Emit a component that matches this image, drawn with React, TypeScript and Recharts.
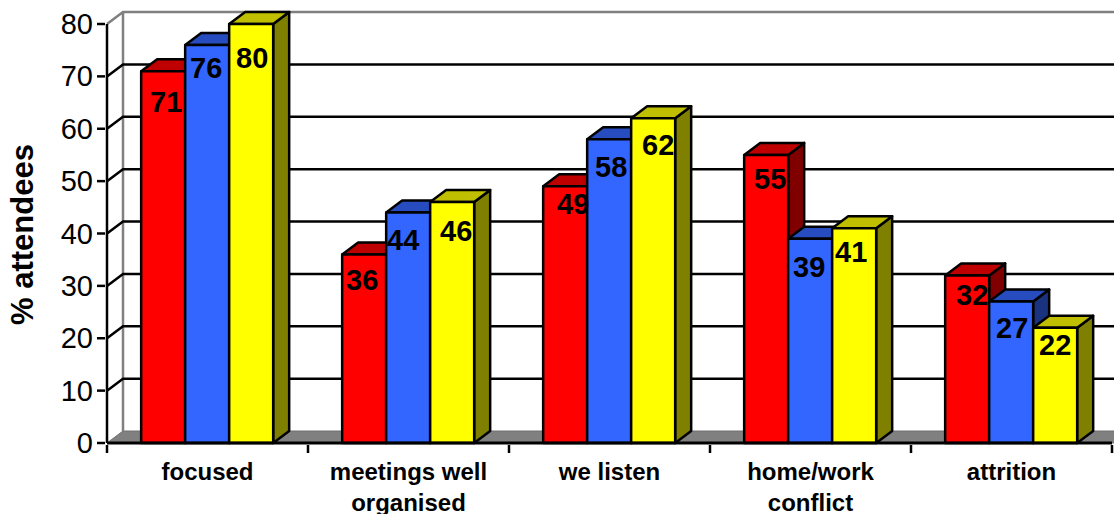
import React from "react";
import { BarChart, Bar, XAxis, YAxis, CartesianGrid, ReferenceArea, LabelList } from "recharts";

const categories = ["focused", "meetings well organised", "we listen", "home/work conflict", "attrition"];
const redValues = [71, 36, 49, 55, 32];
const blueValues = [76, 44, 58, 39, 27];
const yellowValues = [80, 46, 62, 41, 22];
const yTicks = [0, 10, 20, 30, 40, 50, 60, 70, 80];

const rows = categories.map((name, i) => ({
  name,
  red: redValues[i],
  blue: blueValues[i],
  yellow: yellowValues[i],
}));

const FONT = "'Liberation Sans', Arial, sans-serif";
const DEPTH_X = 16;
const DEPTH_Y = 12;
const LINE = 2.5;

const redFaces = { front: "#FF0000", top: "#BF0000", side: "#800000" };
const blueFaces = { front: "#3366FF", top: "#264CBF", side: "#1A3380" };
const yellowFaces = { front: "#FFFF00", top: "#BFBF00", side: "#808000" };

// Hand placement of the value labels, as [dx, dy] from the bar's top centre.
const redShift = [[3, 31], [-2, 26], [8, 18], [4, 24], [5, 20]];
const blueShift = [[-1, 23], [-5, 27], [2, 28], [-1, 28], [1, 26]];
const yellowShift = [[1, 34], [4, 29], [5, 27], [-3, 24], [0, 17]];

type Faces = typeof redFaces;

const box = (faces: Faces) => (props: any) => {
  const { x, y, width, height } = props;
  const r = x + width;
  const b = y + height;
  const common = { stroke: "#000", strokeWidth: LINE, strokeLinejoin: "round" as const };
  return (
    <g>
      <path d={`M${r},${y} l${DEPTH_X},${-DEPTH_Y} V${b - DEPTH_Y} L${r},${b} Z`} fill={faces.side} {...common} />
      <path d={`M${x},${y} l${DEPTH_X},${-DEPTH_Y} H${r + DEPTH_X} L${r},${y} Z`} fill={faces.top} {...common} />
      <rect x={x} y={y} width={width} height={height} fill={faces.front} {...common} />
    </g>
  );
};

const valueLabel = (shift: number[][]) => (props: any) => {
  const { x, y, width, value, index } = props;
  const [dx, dy] = shift[index];
  return (
    <text
      x={x + width / 2 + dx}
      y={y + dy}
      textAnchor="middle"
      dominantBaseline="central"
      fontFamily={FONT}
      fontWeight="bold"
      fontSize={29}
      fill="#000"
    >
      {value}
    </text>
  );
};

// Back wall outline and grey floor of the 3D box.
const Walls = (props: any) => {
  const { x, y, width, height } = props;
  const b = y + height;
  const r = x + width + 10;
  return (
    <g>
      <path
        d={`M${x},${b} l${DEPTH_X},${-DEPTH_Y} H${r} V${b} Z`}
        fill="#808080"
        stroke="#6f6f6f"
        strokeWidth={1}
      />
      <path
        d={`M${x},${y} l${DEPTH_X},${-DEPTH_Y} H${r} M${x + DEPTH_X},${y - DEPTH_Y} V${b - DEPTH_Y}`}
        fill="none"
        stroke="#808080"
        strokeWidth={LINE}
      />
    </g>
  );
};

const gridLine = (props: any) => {
  const { x1, x2, y1, key, index } = props;
  if (index === 0 || index === yTicks.length - 1) return <g key={key} />;
  return (
    <path
      key={key}
      d={`M${x1},${y1} l${DEPTH_X},${-DEPTH_Y} H${x2 + 10}`}
      fill="none"
      stroke="#000"
      strokeWidth={LINE}
    />
  );
};

const YTick = (props: any) => {
  const { x, y, payload } = props;
  return (
    <g>
      <line x1={x - 8} x2={x} y1={y} y2={y} stroke="#000" strokeWidth={LINE} />
      <text
        x={x - 12}
        y={y}
        textAnchor="end"
        dominantBaseline="central"
        fontFamily={FONT}
        fontSize={29}
        fill="#000"
      >
        {payload.value}
      </text>
    </g>
  );
};

const wrapped = [["focused"], ["meetings well", "organised"], ["we listen"], ["home/work", "conflict"], ["attrition"]];

const XTick = (props: any) => {
  const { x, y, index } = props;
  const half = 100.5;
  return (
    <g>
      <line x1={x - half} x2={x - half} y1={y} y2={y + 8} stroke="#000" strokeWidth={LINE} />
      {index === categories.length - 1 && (
        <line x1={x + half} x2={x + half} y1={y} y2={y + 8} stroke="#000" strokeWidth={LINE} />
      )}
      {wrapped[index].map((line, i) => (
        <text
          key={line}
          x={x}
          y={480 + i * 30.5}
          textAnchor="middle"
          fontFamily={FONT}
          fontWeight="bold"
          fontSize={24}
          fill="#000"
        >
          {line}
        </text>
      ))}
    </g>
  );
};

const AxisTitle = () => (
  <text
    transform="translate(33,234.5) rotate(-90)"
    textAnchor="middle"
    fontFamily={FONT}
    fontWeight="bold"
    fontSize={31}
    fill="#000"
  >
    % attendees
  </text>
);

export default function App() {
  return (
    <div style={{ position: "absolute", left: 0, top: 0, width: 1114, height: 514, overflow: "hidden", background: "#fff" }}>
      <BarChart
        width={1114}
        height={514}
        data={rows}
        margin={{ top: 24, right: 2, bottom: 0, left: 0 }}
        barCategoryGap="17%"
        barGap={0}
        style={{ overflow: "hidden" }}
      >
        <ReferenceArea y1={0} y2={80} shape={Walls} ifOverflow="visible" zIndex={-200} />
        <CartesianGrid horizontal={gridLine} vertical={false} />
        <XAxis
          dataKey="name"
          height={71}
          interval={0}
          tick={XTick}
          tickLine={false}
          tickSize={0}
          axisLine={{ stroke: "#000", strokeWidth: 3 }}
        />
        <YAxis
          width={107}
          domain={[0, 80]}
          ticks={yTicks}
          interval={0}
          tick={YTick}
          tickLine={false}
          tickSize={0}
          axisLine={{ stroke: "#000", strokeWidth: LINE }}
          label={{ content: AxisTitle }}
        />
        <Bar dataKey="red" shape={box(redFaces)} isAnimationActive={false}>
          <LabelList dataKey="red" content={valueLabel(redShift)} />
        </Bar>
        <Bar dataKey="blue" shape={box(blueFaces)} isAnimationActive={false}>
          <LabelList dataKey="blue" content={valueLabel(blueShift)} />
        </Bar>
        <Bar dataKey="yellow" shape={box(yellowFaces)} isAnimationActive={false}>
          <LabelList dataKey="yellow" content={valueLabel(yellowShift)} />
        </Bar>
      </BarChart>
    </div>
  );
}
